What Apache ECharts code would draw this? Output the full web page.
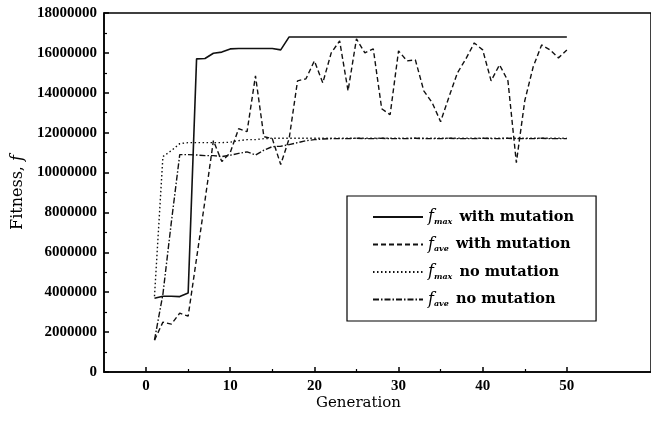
<!DOCTYPE html>
<html>
<head>
<meta charset="utf-8">
<script src="https://cdn.jsdelivr.net/npm/echarts@6/dist/echarts.min.js"></script>
<style>
  html, body { margin: 0; padding: 0; background: #fff; }
  #chart { width: 651px; height: 427px; }
</style>
</head>
<body>
<div id="chart"></div>
<script>
// values, generation 1..50
const generations = [1, 2, 3, 4, 5, 6, 7, 8, 9, 10, 11, 12, 13, 14, 15, 16, 17, 18, 19, 20,
    21, 22, 23, 24, 25, 26, 27, 28, 29, 30, 31, 32, 33, 34, 35, 36, 37, 38, 39, 40,
    41, 42, 43, 44, 45, 46, 47, 48, 49, 50];

const fMaxMut = [3700000, 3800000, 3800000, 3780000, 3960000, 15700000, 15720000, 15980000, 16040000, 16200000,
    16220000, 16220000, 16220000, 16220000, 16220000, 16150000, 16800000, 16800000, 16800000, 16800000,
    16800000, 16800000, 16800000, 16800000, 16800000, 16800000, 16800000, 16800000, 16800000, 16800000,
    16800000, 16800000, 16800000, 16800000, 16800000, 16800000, 16800000, 16800000, 16800000, 16800000,
    16800000, 16800000, 16800000, 16800000, 16800000, 16800000, 16800000, 16800000, 16800000, 16800000];

const fAveMut = [1600000, 2500000, 2400000, 2950000, 2800000, 5700000, 8600000, 11600000, 10550000, 11000000,
    12200000, 12050000, 14850000, 11800000, 11700000, 10400000, 11700000, 14600000, 14700000, 15600000,
    14500000, 16000000, 16600000, 14100000, 16700000, 16000000, 16200000, 13200000, 12900000, 16100000,
    15600000, 15650000, 14100000, 13500000, 12550000, 13800000, 15000000, 15700000, 16500000, 16150000,
    14600000, 15400000, 14600000, 10500000, 13600000, 15300000, 16400000, 16150000, 15750000, 16150000];

const fMaxNoMut = [3800000, 10800000, 11100000, 11450000, 11500000, 11500000, 11500000, 11500000, 11500000, 11520000,
    11600000, 11650000, 11650000, 11700000, 11720000, 11720000, 11720000, 11720000, 11720000, 11720000,
    11720000, 11720000, 11720000, 11720000, 11720000, 11720000, 11720000, 11720000, 11720000, 11720000,
    11720000, 11720000, 11720000, 11720000, 11720000, 11720000, 11720000, 11720000, 11720000, 11720000,
    11720000, 11720000, 11720000, 11720000, 11720000, 11720000, 11720000, 11720000, 11720000, 11720000];

const fAveNoMut = [1600000, 3900000, 7500000, 10900000, 10900000, 10880000, 10850000, 10850000, 10800000, 10870000,
    10960000, 11040000, 10880000, 11120000, 11300000, 11320000, 11400000, 11500000, 11600000, 11650000,
    11680000, 11700000, 11700000, 11700000, 11720000, 11700000, 11700000, 11720000, 11700000, 11700000,
    11700000, 11720000, 11700000, 11700000, 11700000, 11720000, 11700000, 11700000, 11700000, 11720000,
    11700000, 11700000, 11720000, 11700000, 11700000, 11700000, 11720000, 11700000, 11700000, 11700000];

const xMajorTicks = [0, 10, 20, 30, 40, 50];
const xMinorTicks = [5, 15, 25, 35, 45];

const serif = 'DejaVu Serif';
const numFont = 'Liberation Serif';

const legendText = {
    'fmax with mutation': '{f|f}{s|max} with mutation',
    'fave with mutation': '{f|f}{s|ave} with mutation',
    'fmax no mutation': '{f|f}{s|max} no mutation',
    'fave no mutation': '{f|f}{s|ave} no mutation'
};

function pairs(vals) {
    return generations.map((g, i) => [g, vals[i]]);
}

function lineSeries(name, vals, type, width) {
    return {
        name: name,
        type: 'line',
        data: pairs(vals),
        symbol: 'none',
        showSymbol: false,
        smooth: false,
        animation: false,
        itemStyle: { color: '#111' },
        lineStyle: { color: '#111', width: width, type: type }
    };
}

const chart = echarts.init(document.getElementById('chart'), null, { renderer: 'canvas' });

chart.setOption({
    animation: false,
    backgroundColor: '#fff',
    grid: {
        left: 104, right: 0, top: 13, bottom: 55,
        show: true, borderColor: '#000', borderWidth: 1.5,
        outerBoundsMode: 'none'
    },
    legend: {
        orient: 'vertical',
        left: 347, top: 196,
        padding: [13, 22, 13, 25],
        itemGap: 11,
        itemWidth: 50, itemHeight: 16,
        borderColor: '#000', borderWidth: 1.2,
        backgroundColor: '#fff',
        selectedMode: false,
        itemStyle: { color: 'rgba(0,0,0,0)', borderWidth: 0, opacity: 0 },
        formatter: name => legendText[name],
        textStyle: {
            fontFamily: serif, fontWeight: 'bold', fontSize: 14.5, color: '#000',
            rich: {
                f: { fontFamily: serif, fontStyle: 'italic', fontWeight: 'normal', fontSize: 16, color: '#000' },
                s: { fontFamily: serif, fontStyle: 'italic', fontWeight: 'bold', fontSize: 8, color: '#000', padding: [9, 2, 0, 0] }
            }
        }
    },
    graphic: [{
        type: 'text',
        left: 316, top: 396,
        style: { text: 'Generation', fontFamily: serif, fontSize: 15, fill: '#000' }
    }],
    xAxis: [{
        type: 'value',
        min: -5, max: 60,
        position: 'bottom',
        axisLine: { show: true, onZero: false, lineStyle: { color: '#000', width: 1.5 } },
        axisTick: { show: true, inside: true, length: 5, customValues: xMajorTicks, lineStyle: { color: '#000', width: 1.5 } },
        axisLabel: {
            customValues: xMajorTicks, margin: 7,
            fontFamily: numFont, fontWeight: 'bold', fontSize: 15, color: '#000'
        },
        splitLine: { show: false }
    }, {
        type: 'value',
        min: -5, max: 60,
        position: 'bottom',
        axisLine: { show: false, onZero: false },
        axisTick: { show: true, inside: true, length: 3, customValues: xMinorTicks, lineStyle: { color: '#000', width: 1.2 } },
        axisLabel: { show: false },
        splitLine: { show: false }
    }],
    yAxis: {
        type: 'value',
        min: 0, max: 18000000, interval: 2000000,
        name: 'Fitness, {i|f}',
        nameLocation: 'middle',
        nameRotate: 90,
        nameGap: 77,
        nameTextStyle: {
            fontFamily: serif, fontSize: 16, color: '#000',
            rich: { i: { fontFamily: serif, fontStyle: 'italic', fontSize: 16, color: '#000' } }
        },
        axisLine: { show: true, onZero: false, lineStyle: { color: '#000', width: 1.5 } },
        axisTick: { show: true, inside: true, length: 5, lineStyle: { color: '#000', width: 1.5 } },
        minorTick: { show: true, splitNumber: 2, length: 3, lineStyle: { color: '#000', width: 1.2 } },
        axisLabel: {
            margin: 7, formatter: v => String(v),
            fontFamily: numFont, fontWeight: 'bold', fontSize: 15, color: '#000'
        },
        splitLine: { show: false }
    },
    series: [
        lineSeries('fmax with mutation', fMaxMut, 'solid', 1.6),
        lineSeries('fave with mutation', fAveMut, [5, 3], 1.4),
        lineSeries('fmax no mutation', fMaxNoMut, [1.5, 2.5], 1.4),
        lineSeries('fave no mutation', fAveNoMut, [6, 2, 1.5, 2], 1.4)
    ]
});

window.addEventListener('resize', () => chart.resize());
</script>
</body>
</html>
